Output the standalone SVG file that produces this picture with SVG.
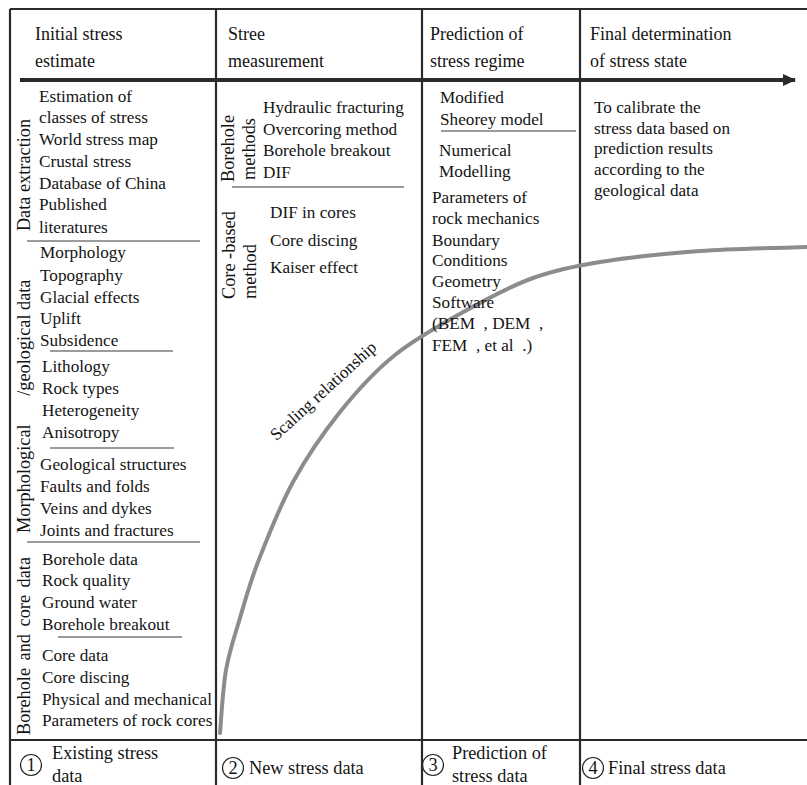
<svg xmlns="http://www.w3.org/2000/svg" width="807" height="785" viewBox="0 0 807 785" font-family="'Liberation Serif','Times New Roman','DejaVu Serif',serif">
<defs>
<style>
text{font-family:'Liberation Serif','Times New Roman','DejaVu Serif',serif;fill:#141414;}
.b{font-size:17.2px;}
.h{font-size:18px;}
.f{font-size:18.3px;}
.r{font-size:18.3px;}
.frame{stroke:#2a2a2a;stroke-width:2.2;fill:none;}
.thin{stroke:#7a7a7a;stroke-width:1.5;fill:none;}
.curve{stroke:#8c8c8c;stroke-width:4;fill:none;stroke-linecap:round;}
.num{fill:none;stroke:#222;stroke-width:1.2;}
</style>
<marker id="ah" markerWidth="14" markerHeight="12" refX="12" refY="6" orient="auto" markerUnits="userSpaceOnUse">
<polygon points="0,0 13,6 0,12" fill="#2a2a2a"/>
</marker>
</defs>
<rect width="807" height="785" fill="#ffffff"/>

<g id="frame">
<line class="frame" x1="10" y1="9" x2="807" y2="9"/>
<line class="frame" x1="10" y1="9" x2="10" y2="785"/>
<line class="frame" x1="216" y1="9" x2="216" y2="785"/>
<line class="frame" x1="422" y1="9" x2="422" y2="785"/>
<line class="frame" x1="580" y1="9" x2="580" y2="785"/>
<line class="frame" x1="10" y1="740" x2="807" y2="740"/>
</g>

<g id="connectors">
<line x1="20" y1="80" x2="795" y2="80" stroke="#2a2a2a" stroke-width="4" marker-end="url(#ah)"/>
<path id="scaling" class="curve" d="M220,733 C221,722.5 222.7,689.2 226,670 C229.3,650.8 234.7,636 240,618 C245.3,600 249.2,584.7 258,562 C266.8,539.3 279.3,507 293,482 C306.7,457 323,433.2 340,412 C357,390.8 373.8,372 395,355 C416.2,338 444,322.8 467,310 C490,297.2 510.8,286 533,278 C555.2,270 572.2,266.5 600,262 C627.8,257.5 665.5,253.5 700,251 C734.5,248.5 789.2,247.7 807,247"/>
<text class="b" transform="translate(327,395) rotate(-42.5)" text-anchor="middle">Scaling relationship</text>
</g>

<g id="header1">
<text class="h" x="35" y="40">Initial stress</text>
<text class="h" x="35" y="67">estimate</text>
</g>
<g id="header2">
<text class="h" x="228" y="40">Stree</text>
<text class="h" x="228" y="67">measurement</text>
</g>
<g id="header3">
<text class="h" x="430" y="40">Prediction of</text>
<text class="h" x="430" y="67">stress regime</text>
</g>
<g id="header4">
<text class="h" x="590" y="40">Final determination</text>
<text class="h" x="590" y="67">of stress state</text>
</g>

<g id="data-extraction">
<text class="r" transform="translate(30,175) rotate(-90)" text-anchor="middle">Data extraction</text>
<text class="b" x="39" y="102">Estimation of</text>
<text class="b" x="39" y="123">classes of stress</text>
<text class="b" x="39" y="145">World stress map</text>
<text class="b" x="39" y="167">Crustal stress</text>
<text class="b" x="39" y="189">Database of China</text>
<text class="b" x="39" y="210">Published</text>
<text class="b" x="39" y="233">literatures</text>
<line class="thin" x1="27" y1="241" x2="200" y2="241"/>
</g>

<g id="morphological">
<text class="r" transform="translate(30,533) rotate(-90)">Morphological <tspan dx="24">/geological data</tspan></text>
<text class="b" x="40" y="258">Morphology</text>
<text class="b" x="40" y="281">Topography</text>
<text class="b" x="40" y="303">Glacial effects</text>
<text class="b" x="40" y="324">Uplift</text>
<text class="b" x="40" y="346">Subsidence</text>
<line class="thin" x1="50" y1="351" x2="173" y2="351"/>
<text class="b" x="42" y="372">Lithology</text>
<text class="b" x="42" y="394">Rock types</text>
<text class="b" x="42" y="416">Heterogeneity</text>
<text class="b" x="42" y="438">Anisotropy</text>
<line class="thin" x1="50" y1="448" x2="174" y2="448"/>
<text class="b" x="40" y="470">Geological structures</text>
<text class="b" x="40" y="492">Faults and folds</text>
<text class="b" x="40" y="514">Veins and dykes</text>
<text class="b" x="40" y="536">Joints and fractures</text>
<line class="thin" x1="27" y1="542" x2="200" y2="542"/>
</g>

<g id="borehole-core">
<text class="r" transform="translate(30,735) rotate(-90)" word-spacing="3">Borehole and core data</text>
<text class="b" x="42" y="565">Borehole data</text>
<text class="b" x="42" y="586">Rock quality</text>
<text class="b" x="42" y="608">Ground water</text>
<text class="b" x="42" y="630">Borehole breakout</text>
<line class="thin" x1="58" y1="637" x2="182" y2="637"/>
<text class="b" x="42" y="661">Core data</text>
<text class="b" x="42" y="683">Core discing</text>
<text class="b" x="42" y="705">Physical and mechanical</text>
<text class="b" x="42" y="726">Parameters of rock cores</text>
</g>

<g id="borehole-methods">
<text class="r" transform="translate(234,182) rotate(-90)">Borehole</text>
<text class="r" transform="translate(255,180) rotate(-90)">methods</text>
<text class="b" x="263" y="113">Hydraulic fracturing</text>
<text class="b" x="263" y="135">Overcoring method</text>
<text class="b" x="263" y="156">Borehole breakout</text>
<text class="b" x="263" y="178">DIF</text>
<line class="thin" x1="232" y1="187" x2="404" y2="187"/>
</g>

<g id="core-methods">
<text class="r" transform="translate(235,299) rotate(-90)">Core -based</text>
<text class="r" transform="translate(256,299) rotate(-90)">method</text>
<text class="b" x="270" y="218">DIF in cores</text>
<text class="b" x="270" y="246">Core discing</text>
<text class="b" x="270" y="273">Kaiser effect</text>
</g>

<g id="prediction">
<text class="b" x="440" y="103">Modified</text>
<text class="b" x="440" y="125">Sheorey model</text>
<line class="thin" x1="441" y1="131" x2="576" y2="131"/>
<text class="b" x="439" y="156">Numerical</text>
<text class="b" x="439" y="177">Modelling</text>
<text class="b" x="432" y="203">Parameters of</text>
<text class="b" x="432" y="224">rock mechanics</text>
<text class="b" x="432" y="246">Boundary</text>
<text class="b" x="432" y="266">Conditions</text>
<text class="b" x="432" y="287">Geometry</text>
<text class="b" x="432" y="308">Software</text>
<text class="b" x="432" y="329" xml:space="preserve">(BEM  , DEM  ,</text>
<text class="b" x="432" y="351" xml:space="preserve">FEM  , et al  .)</text>
</g>

<g id="final">
<text class="b" x="594" y="113">To calibrate the</text>
<text class="b" x="594" y="134">stress data based on</text>
<text class="b" x="594" y="154">prediction results</text>
<text class="b" x="594" y="175">according to the</text>
<text class="b" x="594" y="196">geological data</text>
</g>

<g id="out1">
<circle class="num" cx="31" cy="765" r="10.5"/>
<text class="f" x="31" y="771" text-anchor="middle">1</text>
<text class="f" x="52" y="759">Existing stress</text>
<text class="f" x="52" y="782">data</text>
</g>
<g id="out2">
<circle class="num" cx="233" cy="768" r="10.5"/>
<text class="f" x="233" y="774" text-anchor="middle">2</text>
<text class="f" x="249" y="774">New stress data</text>
</g>
<g id="out3">
<circle class="num" cx="433" cy="765" r="10.5"/>
<text class="f" x="433" y="771" text-anchor="middle">3</text>
<text class="f" x="452" y="759">Prediction of</text>
<text class="f" x="452" y="782">stress data</text>
</g>
<g id="out4">
<circle class="num" cx="593" cy="768" r="10.5"/>
<text class="f" x="593" y="774" text-anchor="middle">4</text>
<text class="f" x="608" y="774">Final stress data</text>
</g>
</svg>
